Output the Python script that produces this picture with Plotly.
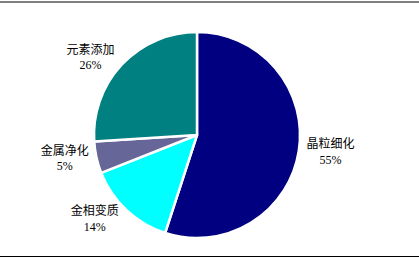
import plotly.graph_objects as go

labels = ["晶粒细化", "金相变质", "金属净化", "元素添加"]
values = [55, 14, 5, 26]
colors = ["#000080", "#00FFFF", "#666699", "#008080"]

W, H = 419, 261
fig = go.Figure(go.Pie(
    labels=labels,
    values=values,
    sort=False,
    direction="clockwise",
    rotation=0,
    domain=dict(x=[0, 394 / W], y=[23 / H, 229 / H]),
    automargin=False,
    marker=dict(colors=colors, line=dict(color="white", width=2.5)),
    texttemplate="%{label}<br>%{value}%",
    textposition="outside",
    textfont=dict(family="Liberation Serif, Noto Sans CJK SC", size=12, color="black"),
    showlegend=False,
    hoverinfo="skip",
))

fig.update_layout(
    width=W, height=H,
    margin=dict(l=0, r=0, t=0, b=0, autoexpand=False),
    paper_bgcolor="white",
    plot_bgcolor="white",
    shapes=[
        dict(type="line", xref="paper", yref="paper", x0=0, x1=1, y0=1 - 2 / H, y1=1 - 2 / H,
             line=dict(color="black", width=1.2)),
        dict(type="line", xref="paper", yref="paper", x0=0, x1=1, y0=1 - 256.5 / H, y1=1 - 256.5 / H,
             line=dict(color="black", width=1.2)),
    ],
)

fig.write_html("out.html")
